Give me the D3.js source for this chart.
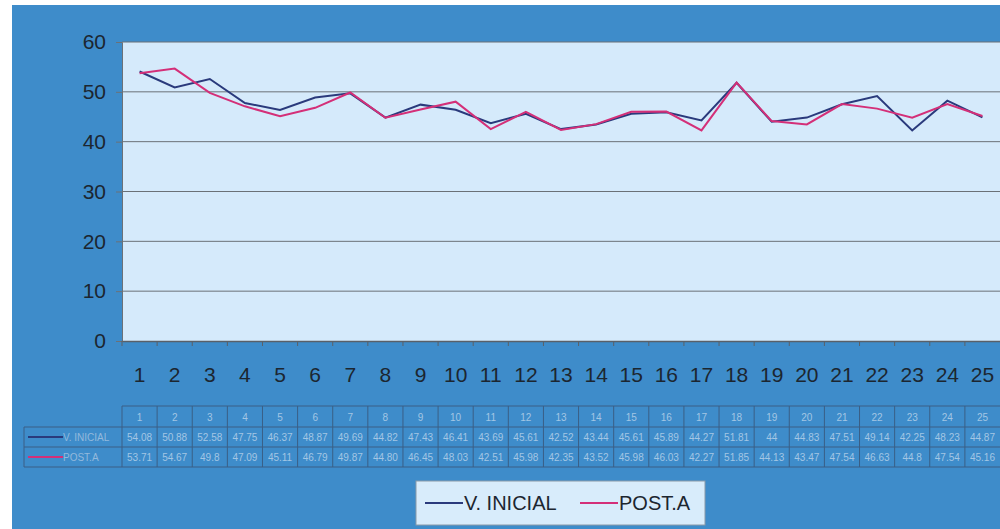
<!DOCTYPE html>
<html><head><meta charset="utf-8">
<script src="https://cdn.jsdelivr.net/npm/d3@7"></script>
<style>body{margin:0;background:#fff;overflow:hidden}svg{display:block}</style>
</head><body>
<svg id="chart" width="1000" height="529"></svg>
<script>
const categories = ["1","2","3","4","5","6","7","8","9","10","11","12","13","14","15","16","17","18","19","20","21","22","23","24","25"];
const vInicial = [54.08,50.88,52.58,47.75,46.37,48.87,49.69,44.82,47.43,46.41,43.69,45.61,42.52,43.44,45.61,45.89,44.27,51.81,44,44.83,47.51,49.14,42.25,48.23,44.87];
const postA = [53.71,54.67,49.8,47.09,45.11,46.79,49.87,44.80,46.45,48.03,42.51,45.98,42.35,43.52,45.98,46.03,42.27,51.85,44.13,43.47,47.54,46.63,44.8,47.54,45.16];
const vInicialLabels = ["54.08","50.88","52.58","47.75","46.37","48.87","49.69","44.82","47.43","46.41","43.69","45.61","42.52","43.44","45.61","45.89","44.27","51.81","44","44.83","47.51","49.14","42.25","48.23","44.87"];
const postALabels = ["53.71","54.67","49.8","47.09","45.11","46.79","49.87","44.80","46.45","48.03","42.51","45.98","42.35","43.52","45.98","46.03","42.27","51.85","44.13","43.47","47.54","46.63","44.8","47.54","45.16"];
const yTicks = [0,10,20,30,40,50,60];
const seriesNames = ["V. INICIAL","POST.A"];

const svg = d3.select("#chart");
const W = 1000, H = 529;
const bg = "#3e8cca", plotBg = "#d5eafb";
const colV = "#2a3a7c", colP = "#d42f78";

svg.append("rect").attr("x",0).attr("y",0).attr("width",W).attr("height",H).attr("fill","#ffffff");
svg.append("rect").attr("x",12).attr("y",5).attr("width",W-12).attr("height",H-5).attr("fill",bg);

const pLeft = 122, pRight = 1000, pTop = 42, pBottom = 341;
const x = d3.scaleBand().domain(categories).range([pLeft,pRight]).padding(0);
const y = d3.scaleLinear().domain([0,60]).range([pBottom,pTop]);

svg.append("rect").attr("x",pLeft).attr("y",pTop).attr("width",pRight-pLeft).attr("height",pBottom-pTop).attr("fill",plotBg);

// grid
svg.append("g").selectAll("line").data(yTicks.filter(d=>d>0)).join("line")
  .attr("x1",pLeft).attr("x2",pRight).attr("y1",d=>y(d)).attr("y2",d=>y(d))
  .attr("stroke","#6b7177").attr("stroke-width",1);

// y axis
const yAxis = d3.axisLeft(y).tickValues(yTicks).tickSize(6).tickPadding(10);
const gy = svg.append("g").attr("transform",`translate(${pLeft},0)`).call(yAxis);
gy.select(".domain").attr("stroke","#6b7177");
gy.selectAll(".tick line").attr("stroke","#6b7177");
gy.selectAll("text").attr("font-family","Liberation Sans, Arial, sans-serif").attr("font-size",21).attr("fill","#1c2630");

// x axis
const xAxis = d3.axisBottom(x).tickSize(0).tickPadding(26);
const gx = svg.append("g").attr("transform",`translate(0,${pBottom})`).call(xAxis);
gx.select(".domain").attr("stroke","#5a6068").attr("stroke-width",1.5);
gx.selectAll("text").attr("font-family","Liberation Sans, Arial, sans-serif").attr("font-size",21).attr("fill","#1c2630");
svg.append("g").selectAll("line").data(categories).join("line")
  .attr("x1",d=>x(d)).attr("x2",d=>x(d)).attr("y1",pBottom).attr("y2",pBottom+5)
  .attr("stroke","#5a6068");

// lines
const line = d3.line().x((d,i)=>x(categories[i])+x.bandwidth()/2).y(d=>y(d));
svg.append("path").datum(vInicial).attr("d",line).attr("fill","none").attr("stroke",colV).attr("stroke-width",2);
svg.append("path").datum(postA).attr("d",line).attr("fill","none").attr("stroke",colP).attr("stroke-width",2);

// data table
const tTop = 406, r1 = 427, r2 = 447, tBot = 467, tLeft = 24;
const tg = svg.append("g");
const gridCol = "#3a5f86";
tg.append("line").attr("x1",pLeft).attr("x2",pRight).attr("y1",tTop).attr("y2",tTop).attr("stroke",gridCol);
tg.append("line").attr("x1",tLeft).attr("x2",pRight).attr("y1",r1).attr("y2",r1).attr("stroke",gridCol);
tg.append("line").attr("x1",tLeft).attr("x2",pRight).attr("y1",r2).attr("y2",r2).attr("stroke",gridCol);
tg.append("line").attr("x1",tLeft).attr("x2",pRight).attr("y1",tBot).attr("y2",tBot).attr("stroke",gridCol);
tg.append("line").attr("x1",tLeft).attr("x2",tLeft).attr("y1",r1).attr("y2",tBot).attr("stroke",gridCol);
tg.selectAll("line.v").data(categories).join("line").attr("class","v")
  .attr("x1",d=>x(d)).attr("x2",d=>x(d)).attr("y1",tTop).attr("y2",tBot).attr("stroke",gridCol);
const tf = "Liberation Sans, Arial, sans-serif", tc = "#a3c6e4";
tg.selectAll("text.h").data(categories).join("text").attr("class","h")
  .attr("x",d=>x(d)+x.bandwidth()/2).attr("y",(tTop+r1)/2+4).attr("text-anchor","middle")
  .attr("font-family",tf).attr("font-size",10).attr("fill",tc).text(d=>d);
tg.selectAll("text.a").data(vInicialLabels).join("text").attr("class","a")
  .attr("x",(d,i)=>x(categories[i])+x.bandwidth()/2).attr("y",(r1+r2)/2+4).attr("text-anchor","middle")
  .attr("font-family",tf).attr("font-size",10).attr("fill",tc).text(d=>d);
tg.selectAll("text.b").data(postALabels).join("text").attr("class","b")
  .attr("x",(d,i)=>x(categories[i])+x.bandwidth()/2).attr("y",(r2+tBot)/2+4).attr("text-anchor","middle")
  .attr("font-family",tf).attr("font-size",10).attr("fill",tc).text(d=>d);
[[colV,(r1+r2)/2,seriesNames[0]],[colP,(r2+tBot)/2,seriesNames[1]]].forEach(([c,cy,t])=>{
  tg.append("line").attr("x1",28).attr("x2",63).attr("y1",cy).attr("y2",cy).attr("stroke",c).attr("stroke-width",2);
  tg.append("text").attr("x",63).attr("y",cy+4).attr("font-family",tf).attr("font-size",10).attr("fill","#93b9dc").text(t);
});

// legend
const lg = svg.append("g");
lg.append("rect").attr("x",416).attr("y",481).attr("width",289).attr("height",44)
  .attr("fill","#d8ecfb").attr("stroke","#8a9aa8");
const items = [{n:seriesNames[0],c:colV,x:425},{n:seriesNames[1],c:colP,x:580}];
items.forEach(it=>{
  lg.append("line").attr("x1",it.x).attr("x2",it.x+38).attr("y1",503).attr("y2",503).attr("stroke",it.c).attr("stroke-width",2);
  lg.append("text").attr("x",it.x+39).attr("y",510).attr("font-family",tf).attr("font-size",20).attr("fill","#1c2630").text(it.n);
});
</script>
</body></html>
